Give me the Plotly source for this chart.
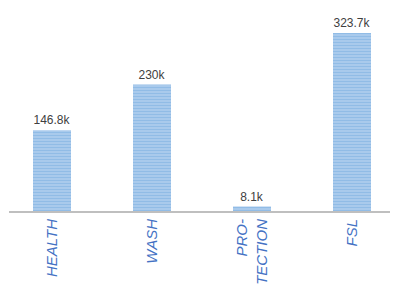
import plotly.graph_objects as go

categories = ["HEALTH", "WASH", "PRO-<br>TECTION", "FSL"]
values = [146.8, 230.0, 8.1, 323.7]
value_labels = ["146.8k", "230k", "8.1k", "323.7k"]

fig = go.Figure(go.Bar(
    x=list(range(len(categories))),
    y=values,
    width=0.38,
    text=value_labels,
    textposition="outside",
    cliponaxis=False,
    textfont=dict(family="Liberation Sans, Arial", size=12, color="#404040"),
    marker=dict(
        color="#5B9BD5",
        line=dict(width=0),
        pattern=dict(shape="-", fgcolor="#4F93D6", bgcolor="#D2E4F6", size=3, solidity=0.75),
    ),
))

fig.update_layout(
    width=390, height=279,
    margin=dict(l=1, r=0, t=12, b=76),
    paper_bgcolor="white", plot_bgcolor="white",
    showlegend=False,
    xaxis=dict(
        range=[-0.43, 3.46],
        automargin=False,
        tickmode="array",
        tickvals=list(range(len(categories))),
        ticktext=categories,
        tickangle=-90,
        tickfont=dict(family="Liberation Sans, Arial", size=15, color="#4472C4"),
        showline=True, linecolor="#BFBFBF", linewidth=2,
        showgrid=False, zeroline=False, ticks="",
    ),
    yaxis=dict(range=[0, 347.3], visible=False, showgrid=False, zeroline=False, automargin=False),
)
fig.update_xaxes(tickfont_style="italic")

fig.write_html("out.html")
